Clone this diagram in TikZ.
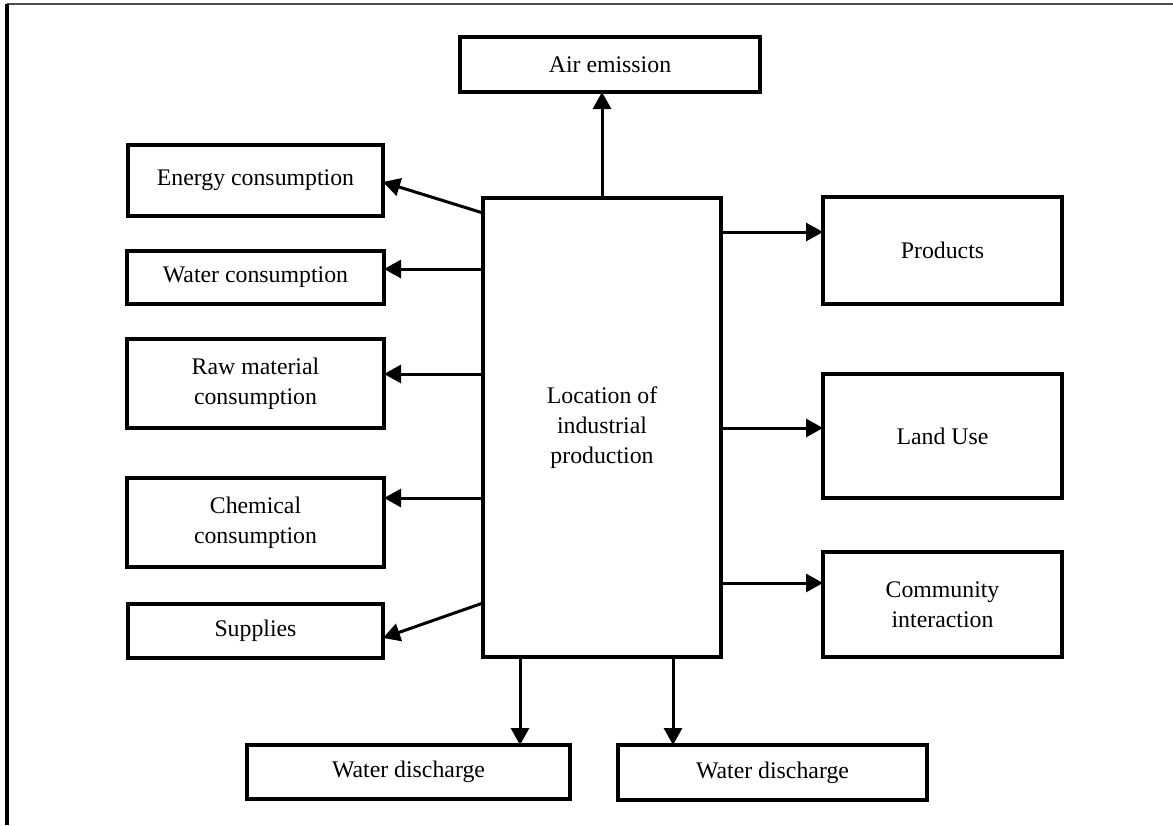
\documentclass[tikz,border=0pt]{standalone}
\usepackage{fontspec}
\setmainfont{Liberation Serif}
\usepackage{tikz}
\usetikzlibrary{arrows.meta, positioning}

\begin{document}
\begin{tikzpicture}[
        x=0.5pt, y=-0.5pt,
        every node/.style={align=center, outer sep=0pt},
        box/.style={rectangle, draw=black, line width=1.9pt, inner sep=2pt,
                    font=\fontsize{11.9}{15}\selectfont},
        hub/.style={box, line width=1.6pt},
        flow/.style={-{Triangle[length=8.5pt, width=9pt]}, line width=1.5pt},
        frametop/.style={line width=1pt, draw=black!70},
        frameleft/.style={line width=1.6pt, draw=black}
    ]
        \useasboundingbox (0,0) rectangle (1173,825);
        \draw[frametop] (1173,4) -- (7,4);
        \draw[frameleft] (7,4) -- (7,825);

        % --- Centro ---
        \node[hub, minimum width=119pt, minimum height=229.5pt] (loc) at (602,427.5)
            {Location of\\industrial\\production};
        \node[box, minimum width=150pt, minimum height=27.5pt] (air) at (610,64.5)
            {Air emission};

        % --- Columna izquierda ---
        \node[box, minimum width=127.5pt, minimum height=35.5pt] (energy) at (255.5,180.5)
            {Energy consumption};
        \node[box, minimum width=128.5pt, minimum height=26.5pt] (water) at (255.5,277.5)
            {Water consumption};
        \node[box, minimum width=128.5pt, minimum height=44.5pt] (raw) at (255.5,383.5)
            {Raw material\\consumption};
        \node[box, minimum width=128.5pt, minimum height=44.5pt] (chem) at (255.5,522.5)
            {Chemical\\consumption};
        \node[box, minimum width=127.5pt, minimum height=27pt] (supply) at (255.5,631)
            {Supplies};

        % --- Columna derecha ---
        \node[box, minimum width=119.5pt, minimum height=53.5pt] (prod) at (942.5,250.5)
            {Products};
        \node[box, minimum width=119.5pt, minimum height=62pt] (land) at (942.5,436)
            {Land Use};
        \node[box, minimum width=119.5pt, minimum height=52.5pt] (comm) at (942.5,604.5)
            {Community\\interaction};

        % --- Abajo ---
        \node[box, minimum width=161.5pt, minimum height=27pt] (disL) at (408.5,772)
            {Water discharge};
        \node[box, minimum width=154.5pt, minimum height=27.5pt] (disR) at (772.5,772.5)
            {Water discharge};

        % --- Flechas ---
        \draw[flow] (loc.north) -- (loc.north |- air.south);
        \draw[flow] (loc.west |- 0,213) -- (energy.east |- 0,182);
        \draw[flow] (loc.west |- 0,269) -- (water.east |- 0,269);
        \draw[flow] (loc.west |- 0,374) -- (raw.east |- 0,374);
        \draw[flow] (loc.west |- 0,498) -- (chem.east |- 0,498);
        \draw[flow] (loc.west |- 0,603) -- (supply.east |- 0,638);
        \draw[flow] (loc.east |- 0,232) -- (prod.west |- 0,232);
        \draw[flow] (loc.east |- 0,428) -- (land.west |- 0,428);
        \draw[flow] (loc.east |- 0,583) -- (comm.west |- 0,583);
        \draw[flow] (loc.south -| 520,0) -- (disL.north -| 520,0);
        \draw[flow] (loc.south -| 673,0) -- (disR.north -| 673,0);
    \end{tikzpicture}
\end{document}
